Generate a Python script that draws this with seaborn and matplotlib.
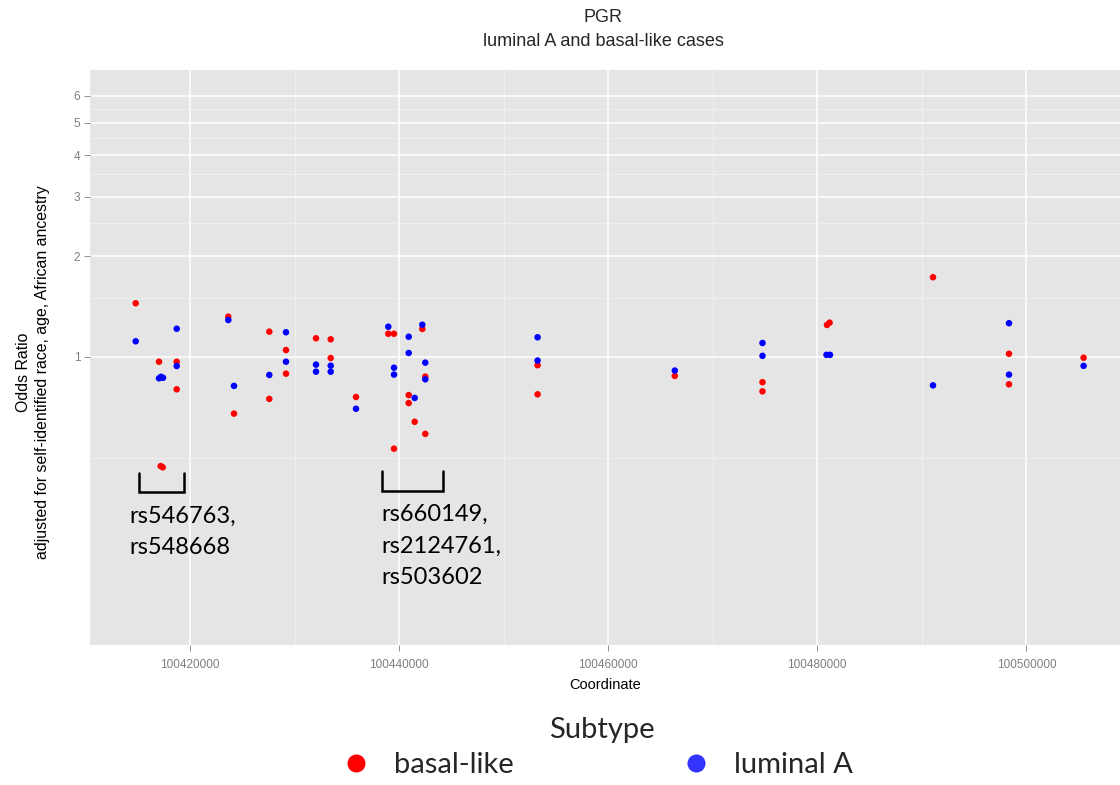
import numpy as np
import pandas as pd
import matplotlib
matplotlib.use("Agg")
import matplotlib.pyplot as plt
from matplotlib.ticker import FixedLocator, FuncFormatter, NullFormatter
from matplotlib.lines import Line2D
import seaborn as sns

# ---------------- data ----------------
basal_coord = [100414806, 100417035, 100418728, 100418728, 100417197, 100417389,
               100423663, 100424209, 100427585, 100427585, 100429182, 100429182,
               100432052, 100433458, 100433458, 100435878, 100438967, 100439513,
               100439513, 100440919, 100440919, 100441492, 100442220, 100442506,
               100442506, 100453248, 100453248, 100466371, 100474760, 100474760,
               100480929, 100481178, 100491068, 100498337, 100498337, 100505473]
basal_or = [1.446, 0.968, 0.968, 0.801, 0.473, 0.469,
            1.319, 0.678, 1.190, 0.750, 1.049, 0.892,
            1.137, 1.129, 0.993, 0.760, 1.173, 1.173,
            0.533, 0.770, 0.729, 0.641, 1.212, 0.874,
            0.590, 0.945, 0.774, 0.878, 0.841, 0.790,
            1.246, 1.266, 1.729, 1.022, 0.829, 0.995]

luminal_coord = [100414806, 100418728, 100418728, 100417035, 100417226, 100417418,
                 100423663, 100424209, 100427585, 100429182, 100429182, 100432052,
                 100432052, 100433458, 100433458, 100435878, 100438967, 100439513,
                 100439513, 100440919, 100440919, 100441492, 100442220, 100442506,
                 100442506, 100453248, 100453248, 100466371, 100474760, 100474760,
                 100480882, 100481216, 100491068, 100498337, 100498337, 100505473]
luminal_or = [1.114, 1.214, 0.940, 0.864, 0.873, 0.867,
              1.289, 0.820, 0.884, 1.185, 0.968, 0.949,
              0.904, 0.942, 0.904, 0.701, 1.231, 0.929,
              0.886, 1.149, 1.028, 0.755, 1.248, 0.962,
              0.858, 1.145, 0.976, 0.911, 1.101, 1.008,
              1.015, 1.015, 0.823, 1.261, 0.886, 0.941]

subtypes = ["basal-like", "luminal A"]
colors = {"basal-like": "#FF0000", "luminal A": "#0000FF"}
legend_colors = {"basal-like": "#FF0000", "luminal A": "#3333FF"}

x_ticks = [100420000, 100440000, 100460000, 100480000, 100500000]
x_minor = [100430000, 100450000, 100470000, 100490000]
y_ticks = [1, 2, 3, 4, 5, 6]
y_minor = [0.5, 1.5, 2.5, 3.5, 4.5, 5.5]

# annotation groups (SNP clusters): bracket x range, bracket y range, text x, label
ann_groups = [
    (100415122, 100419455, 0.452, 0.395, 100414194, "rs546763,\nrs548668"),
    (100438336, 100444171, 0.457, 0.3994, 100438336, "rs660149,\nrs2124761,\nrs503602"),
]

df = pd.DataFrame({
    "Coordinate": basal_coord + luminal_coord,
    "OR": basal_or + luminal_or,
    "Subtype": ["basal-like"] * len(basal_coord) + ["luminal A"] * len(luminal_coord),
})

# ---------------- figure ----------------
sns.set_theme(style="darkgrid")
plt.rcParams["font.family"] = ["Liberation Sans", "DejaVu Sans"]

fig = plt.figure(figsize=(11.2, 7.85), dpi=100)
ax = fig.add_axes([90 / 1120, 1 - 645 / 785, 1030 / 1120, 575 / 785])
ax.set_facecolor("#E5E5E5")

sns.scatterplot(data=df, x="Coordinate", y="OR", hue="Subtype", hue_order=subtypes,
                palette=colors, s=22, marker="o", edgecolor="none", linewidth=0,
                legend=False, ax=ax, zorder=3)

ax.set_yscale("log")
ax.set_ylim(0.1385, 7.17)
ax.set_xlim(100410435, 100508955)

ax.yaxis.set_major_locator(FixedLocator(y_ticks))
ax.yaxis.set_minor_locator(FixedLocator(y_minor))
ax.yaxis.set_major_formatter(FuncFormatter(lambda v, p: f"{v:g}"))
ax.yaxis.set_minor_formatter(NullFormatter())
ax.xaxis.set_major_locator(FixedLocator(x_ticks))
ax.xaxis.set_minor_locator(FixedLocator(x_minor))
ax.xaxis.set_major_formatter(FuncFormatter(lambda v, p: f"{int(v)}"))

ax.grid(which="major", color="white", linewidth=1.1)
ax.grid(which="minor", color="#F2F2F2", linewidth=0.6)
ax.set_axisbelow(True)
for s in ax.spines.values():
    s.set_visible(False)

ax.tick_params(axis="both", which="major", length=4, width=0.6, color="#7F7F7F",
               labelcolor="#7F7F7F", labelsize=8.5, pad=3, bottom=True, left=True)
ax.tick_params(axis="x", which="major", pad=6)
ax.tick_params(axis="both", which="minor", length=0)

ax.set_xlabel("Coordinate", fontsize=10.5, color="black", labelpad=5)
ax.set_ylabel("Odds Ratio\nadjusted for self-identified race, age, African ancestry",
              fontsize=11.4, color="black", labelpad=17, linespacing=1.35)
ax.yaxis.label.set_y(0.475)

fig.text(0.5386, 1 - 18 / 785, "PGR", ha="center", va="center", fontsize=13)
fig.text(0.5386, 1 - 41 / 785, "luminal A and basal-like cases", ha="center",
         va="center", fontsize=13)

# ---------------- annotations ----------------
ann_font = ["Lato", "DejaVu Sans"]
for x0, x1, ytop, ybot, xt, label in ann_groups:
    ax.plot([x0, x0, x1, x1], [ytop, ybot, ybot, ytop],
            color="black", linewidth=1.8, solid_joinstyle="miter", zorder=4)
    ax.text(xt, ybot * 0.912, label, ha="left", va="top",
            fontsize=17, family=ann_font, linespacing=1.62, color="black", zorder=4)

# ---------------- legend ----------------
handles = [Line2D([], [], marker="o", linestyle="none", markersize=13,
                  markerfacecolor=legend_colors[s], markeredgecolor="none") for s in subtypes]
leg = fig.legend(handles, subtypes, loc="center",
                 bbox_to_anchor=(597 / 1120, 1 - 765 / 785), ncol=2, frameon=False,
                 prop={"family": ann_font, "size": 21},
                 columnspacing=5.75, handletextpad=0.8, handlelength=1.0,
                 borderaxespad=0, borderpad=0)
fig.text(602 / 1120, 1 - 730 / 785, "Subtype", ha="center", va="center",
         fontsize=21, family=ann_font)

fig.savefig("out.png", dpi=100, facecolor="white")
